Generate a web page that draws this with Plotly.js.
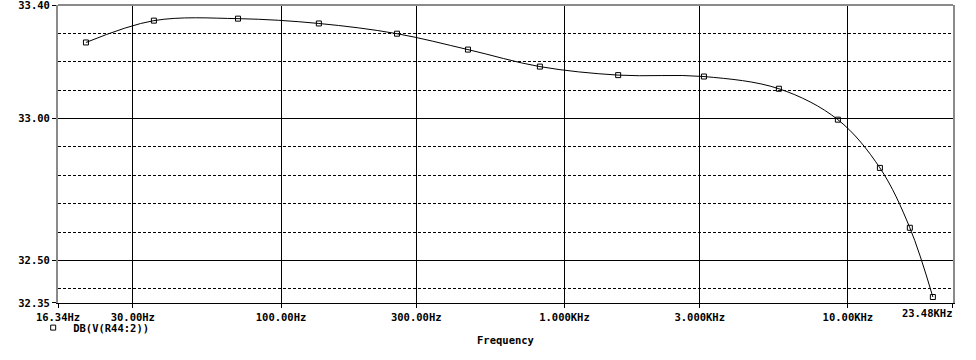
<!DOCTYPE html>
<html>
<head>
<meta charset="utf-8">
<script src="https://cdn.plot.ly/plotly-3.0.1.min.js"></script>
<style>html,body{margin:0;padding:0;background:#fff;}</style>
</head>
<body>
<div id="chart" style="width:976px;height:360px;"></div>
<script>
// Data (PSpice AC sweep)
const seriesName = "DB(V(R44:2))";
const freqHz = [20.5, 35.6, 70.5, 136, 256.6, 456.6, 819, 1547, 3105, 5708, 9218, 12970, 16540, 19940];
const gainDb = [33.268, 33.345, 33.352, 33.335, 33.299, 33.243, 33.183, 33.153, 33.148, 33.105, 32.996, 32.826, 32.615, 32.371];

const xTickVals = [16.34, 30, 100, 300, 1000, 3000, 10000, 23480];
const xTickText = ["16.34Hz", "30.00Hz", "100.00Hz", "300.00Hz", "1.000KHz", "3.000KHz", "10.00KHz", ""];
const xEndTickVals = [23480];
const xEndTickText = ["23.48KHz"];
const yTickVals = [32.35, 32.5, 33.0, 33.4];
const yTickText = ["32.35", "32.50", "33.00", "33.40"];
const yMinorVals = [32.4, 32.6, 32.7, 32.8, 32.9, 33.1, 33.2, 33.3];
const xRange = [16.34, 23480];
const yRange = [32.35, 33.40];

const font = {family: "DejaVu Sans Mono, Liberation Mono, monospace", size: 10.5, color: "#000", weight: "bold"};
const eps = 1e-4;
const xr = [Math.log10(xRange[0]) - eps, Math.log10(xRange[1]) + eps];

const traces = [
  {
    x: freqHz, y: gainDb, type: "scatter", mode: "lines",
    line: {color: "#000", width: 1, shape: "spline", smoothing: 1},
    showlegend: false, hoverinfo: "skip"
  },
  {
    x: freqHz, y: gainDb, type: "scatter", mode: "markers", name: seriesName,
    marker: {symbol: "square-open", size: 5, color: "#000", line: {width: 1, color: "#000"}},
    showlegend: true
  }
];

const layout = {
  width: 976, height: 360,
  margin: {l: 58, r: 23, t: 5, b: 57, pad: 0, autoexpand: false},
  paper_bgcolor: "#fff", plot_bgcolor: "#fff",
  font: font,
  showlegend: true,
  legend: {
    xref: "container", yref: "container",
    x: 0.034, y: 0.09, xanchor: "left", yanchor: "middle",
    bgcolor: "rgba(0,0,0,0)", borderwidth: 0,
    font: font, itemwidth: 30
  },
  xaxis: {
    type: "log",
    range: xr,
    tickmode: "array", tickvals: xTickVals, ticktext: xTickText,
    ticks: "outside", ticklen: 4, tickcolor: "#000", tickwidth: 1,
    ticklabeloverflow: "allow",
    showgrid: true, gridcolor: "#000", gridwidth: 1,
    showline: true, linecolor: "#000", linewidth: 1,
    zeroline: false, tickfont: font,
    title: {text: "Frequency", font: font, standoff: 15},
    automargin: false, fixedrange: true
  },
  xaxis2: {
    type: "log",
    range: xr,
    overlaying: "x", anchor: "y", side: "bottom",
    tickmode: "array", tickvals: xEndTickVals, ticktext: xEndTickText,
    ticks: "outside", ticklen: 4, tickcolor: "#000", tickwidth: 1,
    ticklabelposition: "outside left", ticklabeloverflow: "allow",
    showgrid: false, showline: false, zeroline: false, tickfont: font,
    automargin: false, fixedrange: true
  },
  yaxis: {
    range: [yRange[0] - eps, yRange[1] + eps],
    tickmode: "array", tickvals: yTickVals, ticktext: yTickText,
    ticks: "outside", ticklen: 4, tickcolor: "#000", tickwidth: 1,
    ticklabeloverflow: "allow",
    showgrid: true, gridcolor: "#000", gridwidth: 1,
    minor: {tickmode: "array", tickvals: yMinorVals, showgrid: true, gridcolor: "#000", gridwidth: 1, griddash: "3px,2px", ticks: ""},
    showline: true, linecolor: "#8a8a8a", linewidth: 2, mirror: true,
    zeroline: false, tickfont: font,
    automargin: false, fixedrange: true
  },
  shapes: [
    {type: "line", xref: "paper", yref: "paper", x0: 0, x1: 1, y0: 1, y1: 1, line: {color: "#8a8a8a", width: 2}}
  ]
};

// a hidden trace keeps xaxis2 alive (no visible mark)
traces.push({x: [], y: [], xaxis: "x2", yaxis: "y", type: "scatter", mode: "markers", showlegend: false, hoverinfo: "skip"});

Plotly.newPlot("chart", traces, layout, {displayModeBar: false, staticPlot: true});
</script>
</body>
</html>
